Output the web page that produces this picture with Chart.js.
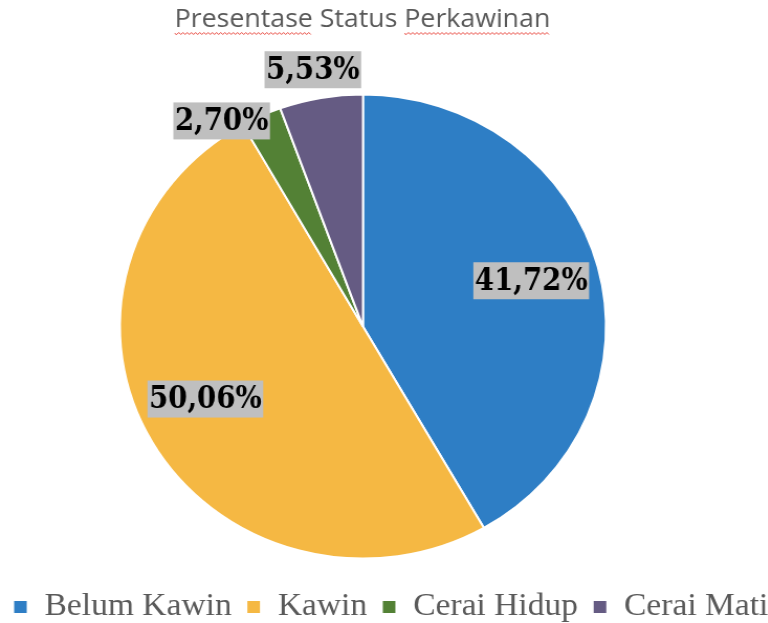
<!DOCTYPE html>
<html>
<head>
<meta charset="utf-8">
<script src="https://cdn.jsdelivr.net/npm/chart.js@4.4.1/dist/chart.umd.min.js"></script>
<style>
html, body { margin: 0; padding: 0; background: #fff; overflow: hidden; }
#wrap { width: 760px; height: 640px; transform: scaleX(1.0475); transform-origin: 0 0; }
</style>
</head>
<body>
<div id="wrap"><canvas id="pie" width="760" height="640" style="width:760px;height:640px"></canvas></div>
<script>
// values
var titleText = 'Presentase Status Perkawinan';
var categories = ['Belum Kawin', 'Kawin', 'Cerai Hidup', 'Cerai Mati'];
var values = [41.72, 50.06, 2.70, 5.53];
var colors = ['#2E7EC5', '#F5B843', '#538135', '#655B83'];

var titleFont = { family: '"Open Sans"', size: 25.5, weight: 'normal' };

// where each value label sits: fraction of the radius, and a small turn in degrees
var labelPlacement = [
	{ r: 0.72, turn: -1 },
	{ r: 0.72, turn: 4 },
	{ r: 1.06, turn: -8.5 },
	{ r: 1.126, turn: -0.6 }
];

function pctText(v) {
	return v.toFixed(2).replace('.', ',') + '%';
}

// pie and title sit left of the legend's centre in the original
var pieShift = {
	id: 'pieShift',
	afterLayout: function(chart) {
		chart.chartArea.left -= 30;
		chart.chartArea.right -= 30;
		if (chart.titleBlock) {
			chart.titleBlock.left -= 27;
			chart.titleBlock.right -= 27;
		}
	}
};

var pieLabels = {
	id: 'pieLabels',
	afterDatasetsDraw: function(chart) {
		var ctx = chart.ctx;
		var arcs = chart.getDatasetMeta(0).data;
		var squeeze = 0.85; // narrower glyphs, like the original font
		ctx.save();
		ctx.font = 'bold 31px "DejaVu Serif", serif';
		ctx.textAlign = 'center';
		ctx.textBaseline = 'middle';
		arcs.forEach(function(arc, i) {
			var p = arc.getProps(['x', 'y', 'startAngle', 'endAngle', 'outerRadius'], true);
			var a = (p.startAngle + p.endAngle) / 2 + labelPlacement[i].turn * Math.PI / 180;
			var r = p.outerRadius * labelPlacement[i].r;
			var cx = p.x + Math.cos(a) * r;
			var cy = p.y + Math.sin(a) * r;
			var txt = pctText(values[i]);
			var w = ctx.measureText(txt).width * squeeze + 3;
			var h = 37;
			ctx.fillStyle = '#BFBFBF';
			ctx.fillRect(cx - w / 2, cy - h / 2, w, h);
			ctx.save();
			ctx.translate(cx, cy + 1);
			ctx.scale(squeeze, 1);
			ctx.fillStyle = '#000';
			ctx.fillText(txt, 0, 0);
			ctx.restore();
		});
		ctx.restore();
	}
};

// the red spell-check wave under two words of the title
var squiggle = {
	id: 'squiggle',
	afterDraw: function(chart) {
		var tb = chart.titleBlock;
		if (!tb) return;
		var ctx = chart.ctx;
		ctx.save();
		ctx.font = Chart.helpers.toFont(titleFont).string;
		var full = ctx.measureText(titleText).width;
		var x0 = (tb.left + tb.right) / 2 - full / 2;
		var y = 33.5;
		var words = [
			[0, ctx.measureText('Presentase').width],
			[ctx.measureText('Presentase Status ').width, full]
		];
		ctx.strokeStyle = '#E8483F';
		ctx.lineWidth = 1;
		words.forEach(function(wd) {
			ctx.beginPath();
			var up = true;
			for (var x = x0 + wd[0]; x <= x0 + wd[1]; x += 2) {
				if (x === x0 + wd[0]) ctx.moveTo(x, y);
				else ctx.lineTo(x, up ? y - 1 : y + 1);
				up = !up;
			}
			ctx.stroke();
		});
		ctx.restore();
	}
};

new Chart(document.getElementById('pie'), {
	type: 'pie',
	data: {
		labels: categories,
		datasets: [{
			data: values,
			backgroundColor: colors,
			borderColor: '#ffffff',
			borderWidth: 2,
			radius: 232
		}]
	},
	options: {
		responsive: false,
		animation: false,
		layout: { padding: { left: -7, right: 7, top: 0, bottom: 7 } },
		plugins: {
			title: {
				display: true,
				text: titleText,
				color: '#595959',
				font: titleFont,
				padding: { top: 4.5, bottom: 41 }
			},
			legend: {
				position: 'bottom',
				align: 'center',
				labels: {
					boxWidth: 14,
					boxHeight: 14,
					padding: 14,
					color: '#595959',
					font: { family: '"Liberation Serif", serif', size: 32 }
				}
			},
			tooltip: { enabled: false }
		}
	},
	plugins: [pieShift, pieLabels, squiggle]
});
</script>
</body>
</html>
